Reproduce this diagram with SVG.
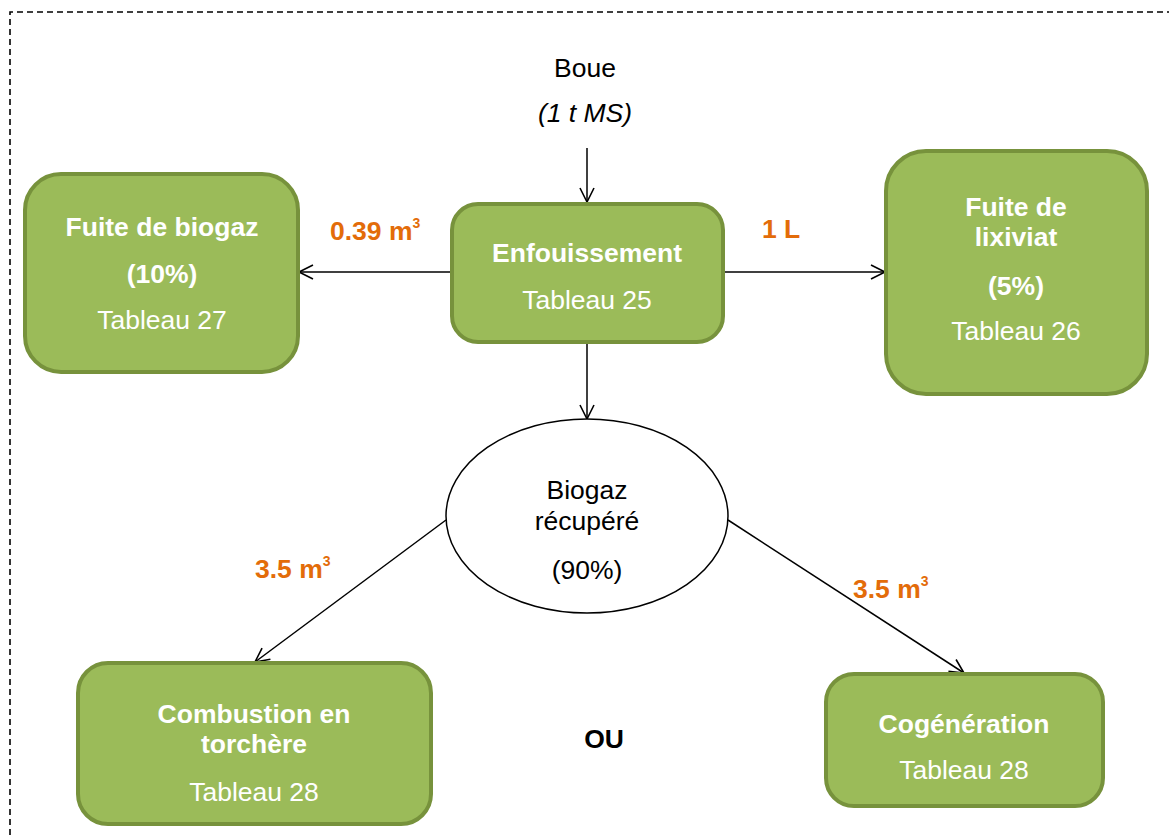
<svg xmlns="http://www.w3.org/2000/svg" width="1169" height="836" viewBox="0 0 1169 836">
  <defs>
    <marker id="arrow" markerUnits="userSpaceOnUse" markerWidth="20" markerHeight="20" viewBox="0 0 20 20" refX="18" refY="10" orient="auto">
      <path d="M4,3 L18,10 L4,17" fill="none" stroke="#000" stroke-width="1.6"/>
    </marker>
  </defs>
  <style>
    .box { fill: #9BBB59; stroke: #77923C; stroke-width: 4; }
    .t { font-family: "Liberation Sans", Arial, sans-serif; font-size: 26.5px; text-anchor: middle; }
    .w { fill: #ffffff; }
    .b { font-weight: bold; }
    .k { fill: #000000; }
    .o { fill: #E36C09; font-weight: bold; text-anchor: start; }
    .edge { stroke: #000; stroke-width: 1.5; fill: none; marker-end: url(#arrow); }
  </style>
  <rect width="1169" height="836" fill="#ffffff"/>
  <!-- page frame -->
  <path d="M10,845 L10,12 L1180,12" fill="none" stroke="#000" stroke-width="1.6" stroke-dasharray="6,4"/>

  <!-- input label -->
  <g id="boue">
    <text class="t k" x="585" y="77">Boue</text>
    <text class="t k" x="585" y="122" font-style="italic">(1 t MS)</text>
  </g>

  <g id="connectors">
    <line class="edge" x1="587" y1="148" x2="587" y2="202"/>
    <line class="edge" x1="451" y1="272" x2="299" y2="272"/>
    <line class="edge" x1="724" y1="272" x2="885" y2="272"/>
    <line class="edge" x1="587" y1="343" x2="587" y2="419"/>
    <line class="edge" x1="446" y1="520" x2="255" y2="662"/>
    <line class="edge" x1="728" y1="520" x2="964" y2="673"/>
  </g>

  <g id="labels">
    <text class="t o" x="330" y="240">0.39 m<tspan dy="-12" font-size="14">3</tspan></text>
    <text class="t o" x="762" y="238">1 L</text>
    <text class="t o" x="255" y="578">3.5 m<tspan dy="-12" font-size="14">3</tspan></text>
    <text class="t o" x="853" y="598">3.5 m<tspan dy="-12" font-size="14">3</tspan></text>
  </g>

  <g id="fuite-biogaz">
    <rect class="box" x="25" y="174" width="273" height="198" rx="36"/>
    <text class="t w b" x="162" y="236">Fuite de biogaz</text>
    <text class="t w b" x="162" y="283">(10%)</text>
    <text class="t w" x="162" y="329">Tableau 27</text>
  </g>

  <g id="enfouissement">
    <rect class="box" x="452" y="204" width="271" height="138" rx="26"/>
    <text class="t w b" x="587" y="262">Enfouissement</text>
    <text class="t w" x="587" y="309">Tableau 25</text>
  </g>

  <g id="fuite-lixiviat">
    <rect class="box" x="886" y="151" width="261" height="243" rx="40"/>
    <text class="t w b" x="1016" y="216">Fuite de</text>
    <text class="t w b" x="1016" y="246">lixiviat</text>
    <text class="t w b" x="1016" y="295">(5%)</text>
    <text class="t w" x="1016" y="340">Tableau 26</text>
  </g>

  <g id="biogaz-recupere">
    <ellipse cx="587" cy="516" rx="141" ry="97" fill="#ffffff" stroke="#000" stroke-width="1.5"/>
    <text class="t k" x="587" y="499">Biogaz</text>
    <text class="t k" x="587" y="530">récupéré</text>
    <text class="t k" x="587" y="579">(90%)</text>
  </g>

  <g id="combustion">
    <rect class="box" x="78" y="663" width="353" height="161" rx="30"/>
    <text class="t w b" x="254" y="723">Combustion en</text>
    <text class="t w b" x="254" y="753">torchère</text>
    <text class="t w" x="254" y="801">Tableau 28</text>
  </g>

  <g id="ou">
    <text class="t k b" x="604" y="748">OU</text>
  </g>

  <g id="cogeneration">
    <rect class="box" x="826" y="674" width="277" height="132" rx="28"/>
    <text class="t w b" x="964" y="733">Cogénération</text>
    <text class="t w" x="964" y="779">Tableau 28</text>
  </g>
</svg>
